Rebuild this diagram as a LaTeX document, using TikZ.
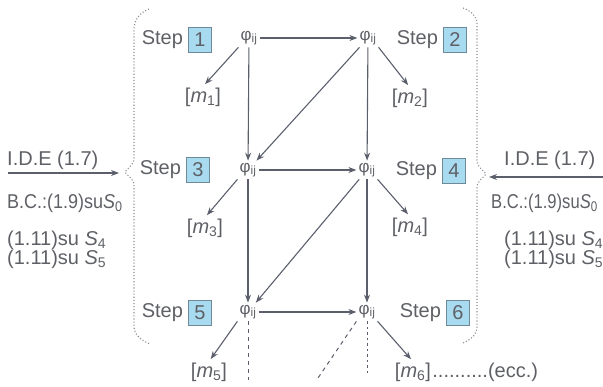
\documentclass[tikz,border=0pt]{standalone}
\usepackage{fontspec}
\setmainfont{Liberation Sans}
\usetikzlibrary{arrows.meta,calc}
\definecolor{txt}{HTML}{5E6066}
\definecolor{lnc}{HTML}{5A5F6B}
\definecolor{boxfill}{HTML}{A9DBF0}
\definecolor{boxdraw}{HTML}{6E8A99}
\begin{document}
\begin{tikzpicture}[x=1pt,y=-1pt,
 every node/.style={text=txt, font=\fontsize{20}{24}\selectfont, inner sep=1pt},
 phinode/.style={font=\fontsize{17}{20}\selectfont, inner sep=2pt},
 stepnum/.style={draw=boxdraw, fill=boxfill, line width=0.8pt, minimum width=23pt, minimum height=25pt, inner sep=0pt},
 steplab/.style={anchor=east},
 arr/.style={draw=lnc, line width=1.1pt, -{Stealth[length=8pt,width=6pt]}},
 darr/.style={arr, shorten >=3pt},
 dashln/.style={draw=lnc, line width=1pt, dash pattern=on 4pt off 4pt},
 dotln/.style={draw=lnc, line width=1pt, dash pattern=on 2.5pt off 3pt},
 brace/.style={draw=lnc!70, line width=1.1pt, dotted}
]
\useasboundingbox (0,0) rectangle (603,387);
\clip (0,0) rectangle (603,387);

% phi nodes
\node[phinode] (p1) at (249,38) {φ\textsubscript{ij}};
\node[phinode] (p2) at (368,38) {φ\textsubscript{ij}};
\node[phinode] (p3) at (248,170) {φ\textsubscript{ij}};
\node[phinode] (p4) at (367,170) {φ\textsubscript{ij}};
\node[phinode] (p5) at (248,312) {φ\textsubscript{ij}};
\node[phinode] (p6) at (367,312) {φ\textsubscript{ij}};

% step labels
\node[stepnum] (b1) at (200,40) {1};
\node[steplab] (s1) at ([xshift=-4pt]b1.west) {Step};
\node[stepnum] (b2) at (455,40) {2};
\node[steplab] (s2) at ([xshift=-4pt]b2.west) {Step};
\node[stepnum] (b3) at (198,170) {3};
\node[steplab] (s3) at ([xshift=-4pt]b3.west) {Step};
\node[stepnum] (b4) at (454,171) {4};
\node[steplab] (s4) at ([xshift=-4pt]b4.west) {Step};
\node[stepnum] (b5) at (200,313) {5};
\node[steplab] (s5) at ([xshift=-4pt]b5.west) {Step};
\node[stepnum] (b6) at (458,313) {6};
\node[steplab] (s6) at ([xshift=-4pt]b6.west) {Step};

% m labels
\node (m1) at (203,97) {[\textit{m}\textsubscript{1}]};
\node (m2) at (410,98) {[\textit{m}\textsubscript{2}]};
\node (m3) at (205,228) {[\textit{m}\textsubscript{3}]};
\node (m4) at (410,227) {[\textit{m}\textsubscript{4}]};
\node (m5) at (209,372) {[\textit{m}\textsubscript{5}]};
\node (m6) at (413,372) {[\textit{m}\textsubscript{6}]};
\node[anchor=west, inner sep=0pt] (ecc) at (m6.east) {..........(ecc.)};

% arrows between phi nodes
\draw[arr] (p1) -- (p2);
\draw[arr] (p1) -- (p3);
\draw[arr] (p2) -- (p3);
\draw[arr] (p2) -- (p4);
\draw[arr] (p3) -- (p4);
\draw[arr] (p3) -- (p5);
\draw[arr] (p4) -- (p5);
\draw[arr] (p4) -- (p6);
\draw[arr] (p5) -- (p6);

% arrows to m labels
\draw[darr] (p1.south west) -- (m1.north);
\draw[darr] (p2.south east) -- (m2.north);
\draw[darr] (p3.south west) -- (m3.north);
\draw[darr] (p4.south east) -- (m4.north);
\draw[darr] (p5.south west) -- (m5.north);
\draw[darr] (p6.south east) -- (m6.north);

% dashed continuations
\coordinate (d5) at (248,380);
\coordinate (d6) at (367,376);
\coordinate (d6b) at (318,378);
\draw[dashln] (p5.south) -- (d5);
\draw[dotln] (p6.south) -- (d6);
\draw[dashln] (p6.south west) -- (d6b);

% braces
\draw[brace] (149,9) .. controls (139,13) and (134,20) .. (134,30) -- (134,158)
  .. controls (134,166) and (127,168) .. (125,172) .. controls (127,176) and (134,178) .. (134,186)
  -- (134,326) .. controls (134,334) and (140,340) .. (150,344);
\draw[brace] (463,8) .. controls (471,11) and (477,16) .. (477,24) -- (477,160)
  .. controls (477,168) and (484,170) .. (486,174) .. controls (484,178) and (477,180) .. (477,188)
  -- (477,327) .. controls (477,334) and (472,339) .. (463,343);

% left side
\node[anchor=west] (lide) at (6,160) {I.D.E (1.7)};
\coordinate (la0) at (8,173);
\coordinate (la1) at (119,173);
\draw[arr] (la0) -- (la1);
\node[anchor=west] (lbc) at (6,203) {\scalebox{0.9}[1]{B.C.:(1.9)su\textit{S}\textsubscript{0}}};
\node[anchor=west] (ls4) at (6,240) {(1.11)su \textit{S}\textsubscript{4}};
\node[anchor=west] (ls5) at (6,259) {(1.11)su \textit{S}\textsubscript{5}};

% right side
\node[anchor=west] (ride) at (503,160) {I.D.E (1.7)};
\coordinate (ra0) at (603,177);
\coordinate (ra1) at (489,177);
\draw[arr] (ra0) -- (ra1);
\node[anchor=west] (rbc) at (490,203) {\scalebox{0.83}[1]{B.C.:(1.9)su\textit{S}\textsubscript{0}}};
\node[anchor=west] (rs4) at (503,240) {(1.11)su \textit{S}\textsubscript{4}};
\node[anchor=west] (rs5) at (503,259) {(1.11)su \textit{S}\textsubscript{5}};
\end{tikzpicture}
\end{document}
